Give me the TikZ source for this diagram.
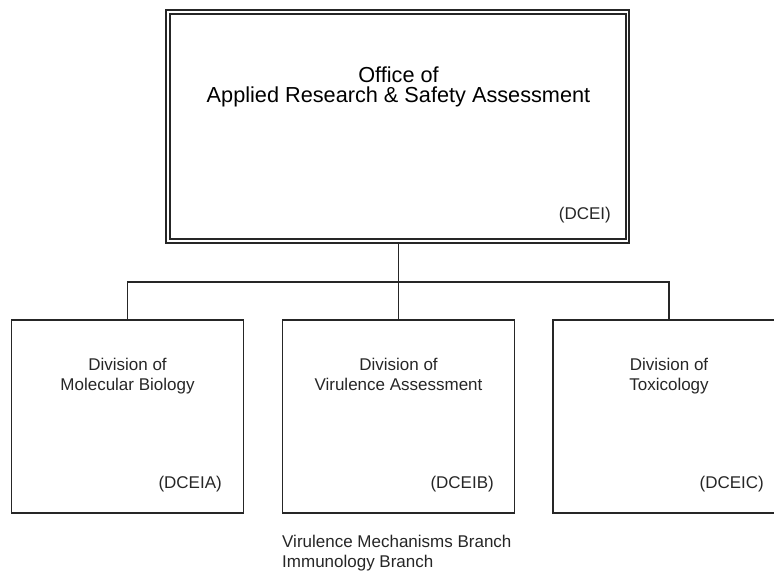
\documentclass[tikz,border=0pt]{standalone}
\usepackage{fontspec}
\setmainfont{Liberation Sans}
\begin{document}
\begin{tikzpicture}[x=1pt,y=1pt,
  line/.style={line width=1.8pt, draw=black!85},
  divbox/.style={line, minimum width=232pt, minimum height=193pt, inner sep=0pt, outer sep=0pt},
  bigtxt/.style={font=\fontsize{21.7}{20}\selectfont, inner sep=0pt, anchor=base},
  txt/.style={font=\fontsize{17}{20}\selectfont, inner sep=0pt, text=black!85},
  ]
\useasboundingbox (0,0) rectangle (774,572);
\begin{scope}
\clip (0,0) rectangle (774,572);
% top box
\node[line, minimum width=463pt, minimum height=232.4pt, inner sep=0pt, outer sep=0pt] (top) at (397.8,445.5) {};
\draw[line] ([shift={(3.9,-4)}]top.north west) rectangle ([shift={(-3.5,3.6)}]top.south east);
\node[bigtxt] (t1) at (398.5,489) {Office of};
\node[bigtxt] (t2) at (398.5,469) {Applied Research \& Safety Assessment};
\node[txt, anchor=base east] (tc) at (611,352) {(DCEI)};
% division boxes
\node[divbox] (b1) at (127.5,155.5) {};
\node[divbox] (b2) at (398.5,155.5) {};
\node[divbox] (b3) at (669,155.5) {};
% connectors
\coordinate (bus) at (398.5,290);
\draw[line] (top.south -| bus) -- (bus);
\draw[line] (b1.north) |- (bus);
\draw[line] (b3.north) |- (bus);
\draw[line] (b2.north) -- (bus);
% division texts
\node[txt, anchor=base] (d1a) at (127.5,201) {Division of};
\node[txt, anchor=base] (d1b) at (127.5,181) {Molecular Biology};
\node[txt, anchor=base east] (c1) at (222,83) {(DCEIA)};
\node[txt, anchor=base] (d2a) at (398.5,201) {Division of};
\node[txt, anchor=base] (d2b) at (398.5,181) {Virulence Assessment};
\node[txt, anchor=base east] (c2) at (494,83) {(DCEIB)};
\node[txt, anchor=base] (d3a) at (669,201) {Division of};
\node[txt, anchor=base] (d3b) at (669,181) {Toxicology};
\node[txt, anchor=base east] (c3) at (764,83) {(DCEIC)};
% branches
\node[txt, anchor=base west] (br1) at (282,24) {Virulence Mechanisms Branch};
\node[txt, anchor=base west] (br2) at (282,4) {Immunology Branch};
\end{scope}
\end{tikzpicture}
\end{document}
